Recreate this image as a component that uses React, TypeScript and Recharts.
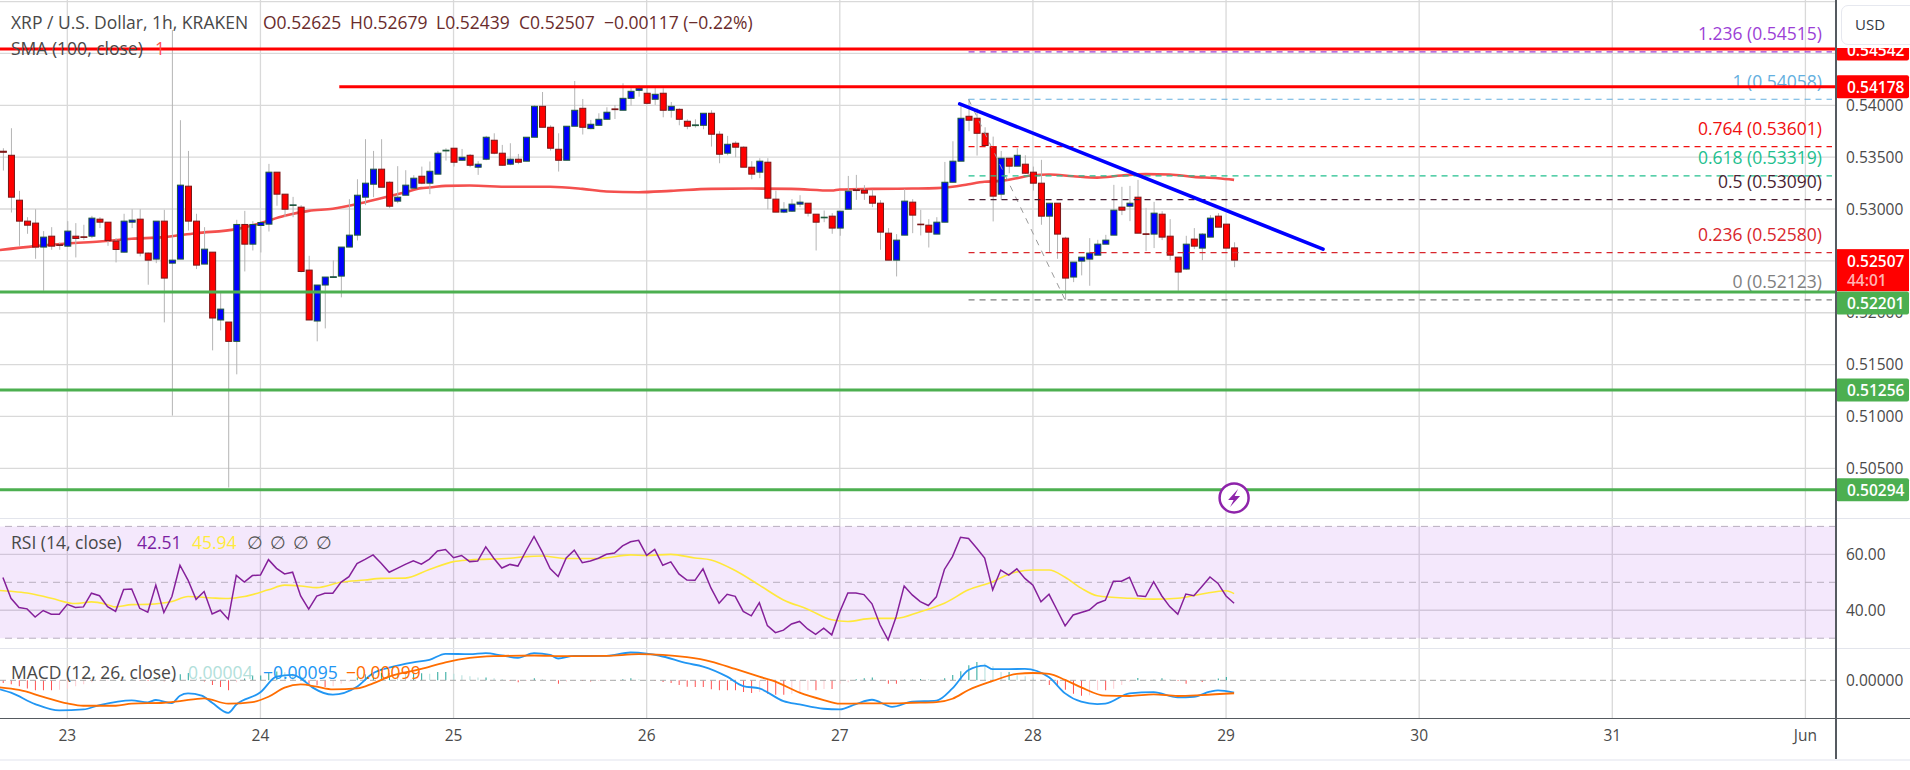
import React from 'react';
import { ComposedChart, Bar, Line, XAxis, YAxis, CartesianGrid, ReferenceLine, ReferenceArea, ReferenceDot, Cell } from 'recharts';

// Hours counted from May 23 00:00. Candle prices are in 1e-5 dollars.
const firstHour = -8;
const openE5 = [53557,53518,53085,52883,52864,52633,52738,52655,
52642,52738,52732,52738,52902,52873,52690,52584,52873,52902,52575,52517,52883,52478,52517,53220,
52883,52469,52584,51930,51910,51724,52851,52661,52841,52854,53355,53143,53034,53018,52411,51920,
52267,52340,52353,52633,52748,53114,53239,53384,53258,53076,53133,53201,53316,53249,53336,53560,
53586,53470,53518,53403,53480,53663,53538,53432,53480,53461,53692,53990,53788,53576,53470,53798,
53971,53775,53807,53865,53965,53952,54067,54144,54116,54058,54116,53952,53961,53846,53804,53807,
53923,53721,53538,53634,53596,53403,53355,53451,53095,52970,52979,53047,53056,52950,52915,52931,
52816,52998,53185,53181,53124,53056,52767,52507,52748,53066,52854,52844,52758,52873,53258,53461,
53894,53875,53730,53599,53143,53490,53413,53432,53355,53249,52931,53056,52719,52344,52498,52517,
52555,52661,52748,53018,53027,53114,52761,52758,52950,52738,52536,52421,52710,52623,52729,52931,
52854,52625];
const highE5 = [53586,53779,53175,52921,52998,52787,52825,52677,
52883,52864,52848,52934,52921,52873,52719,52954,52998,52998,52581,52883,52992,54725,53856,53560,
52954,52825,52584,52190,51910,52896,52982,52883,52883,53435,53355,53143,53117,53037,52549,52267,
52344,52504,52633,53095,53287,53673,53560,53673,53268,53413,53374,53326,53409,53458,53560,53586,
53586,53579,53531,53461,53705,53730,53618,53634,53531,53692,54000,54128,53807,53730,53798,54234,
54061,53859,53923,53981,54003,54212,54164,54196,54173,54167,54164,54032,53971,53865,53865,53923,
53952,53750,53705,53653,53605,53461,53490,53490,53178,53066,53095,53133,53056,52950,52986,52960,
52979,53319,53329,53230,53185,53085,52816,52758,53191,53095,52992,52902,52921,53454,53653,54003,
54058,53971,53788,53698,53560,53490,53586,53518,53409,53474,53056,53056,52732,52488,52536,52719,
52703,52751,53233,53214,53223,53281,53011,53069,52979,52902,52536,52742,52816,52767,52941,52960,
52854,52679];
const lowE5 = [53371,52966,52645,52761,52520,52212,52607,52607,
52633,52533,52703,52719,52816,52645,52485,52581,52816,52543,52270,52478,51907,51008,52517,52793,
52421,52469,51637,51830,50315,51406,52398,52600,52581,52783,53031,52921,52921,52389,51930,51724,
51849,52340,52148,52633,52697,53037,53114,53210,53008,53056,53133,53201,53239,53143,53336,53467,
53409,53467,53403,53329,53470,53528,53416,53422,53432,53461,53692,53788,53563,53361,53470,53798,
53718,53769,53804,53865,53868,53952,53997,54083,54010,54003,53884,53881,53807,53769,53785,53769,
53602,53441,53518,53499,53403,53287,53297,52998,52970,52960,52973,53018,52928,52600,52873,52761,
52742,52998,53088,53088,53018,52607,52507,52350,52748,52767,52745,52629,52758,52873,53258,53461,
53750,53515,53602,52880,53088,53345,53413,53339,53178,52848,52584,52520,52123,52295,52360,52260,
52555,52661,52748,52941,52883,52767,52594,52623,52700,52507,52212,52414,52613,52507,52729,52825,
52623,52439];
const closeE5 = [53547,53114,52883,52844,52633,52729,52642,52649,
52787,52716,52726,52912,52873,52697,52610,52883,52893,52575,52507,52883,52334,52507,53230,52883,
52459,52613,51949,52035,51724,52851,52661,52851,52870,53355,53143,52998,53040,52398,51930,52267,
52344,52347,52633,52748,53133,53249,53384,53210,53027,53114,53230,53297,53249,53364,53538,53567,
53451,53499,53422,53432,53692,53538,53422,53480,53451,53692,53990,53788,53586,53470,53798,53952,
53788,53817,53865,53933,53958,54067,54135,54164,54019,54106,53952,53990,53865,53798,53811,53923,
53721,53528,53624,53596,53403,53336,53461,53104,52970,52998,53047,53066,52960,52873,52921,52816,
52979,53172,53178,53153,53056,52777,52507,52700,53076,52941,52848,52777,52873,53258,53461,53875,
53856,53730,53612,53124,53490,53413,53518,53345,53249,52931,53056,52758,52334,52488,52536,52575,
52661,52700,52989,52989,53056,52767,52755,52960,52729,52555,52392,52661,52642,52758,52912,52825,
52623,52507];

const smaHours = [-8.4,-4,0,4,8,12,16,21,24,27,30,33,36,39,42,44,45,47,50,55,60,64,67,71,75,80,85,90,95,96,100,105,108,110,112,114,116,118,120,122,125,128,131,134,137,140,143,145];
const smaE5 = [52604,52642,52668,52687,52713,52729,52767,52806,52864,52934,52982,53002,53047,53104,53162,53201,53207,53223,53226,53214,53214,53194,53169,53162,53175,53194,53197,53194,53178,53188,53194,53197,53201,53214,53239,53262,53271,53297,53326,53332,53316,53303,53323,53336,53332,53310,53297,53281];

const rsiValues = [51.7,44.3,41,40.5,37.6,39.9,38.6,38.6,
42.1,41,41.2,46.1,45.2,41.3,39.6,47.4,47.6,40.7,39.3,49,39.2,44.9,56.1,50.8,
43.9,46.7,38.7,40,36.8,52.5,50.1,52.4,52.6,58.1,55,53,53.6,45.1,40.4,45.1,
46.1,46.1,50,52,56.7,58.2,59.8,56.8,53.6,55,56.4,57.7,56.5,58.3,61.2,61.7,
58.8,59.6,57.4,57.6,62.7,58.6,55.1,56.4,55.8,61.2,66.4,61,54.9,52.1,58.7,61.5,
57,57.6,58.6,60,60.5,63,64.5,65,59.6,61.8,56.1,57.3,53,50.8,50.7,54.8,
47.9,42.5,45.7,45,39.6,38,42.7,34.5,32,32.9,35.1,36,33.3,31.4,33.6,31.2,
39.5,46.2,46.2,45.6,42.3,34.8,29.4,37.7,48.7,45.5,43.1,41.7,44.8,54.6,59.2,66.1,
65.7,62.3,58.7,47.3,54.4,52.6,54.8,51.4,49,43,45.7,40.1,34.4,38.3,39.2,40.1,
42.5,43.6,50.4,50.4,51.8,45.2,44.9,50.2,45.2,41.3,38.6,45.8,45.2,48.5,51.9,49.6,
45.1,42.51];

const rsiMaHours = [-8.4,-7,-5,-2,1,3,5,6,8,10,13,15,18,20,22,25,27,29,31,34,37,39,42,45,48,50,55,57,59,62,66,70,72,75,78,80,83,86,89,92,95,97,100,103,106,109,112,115,117,120,122,124,126,128,132,135,138,141,144,145];
const rsiMaValues = [47.1,46.8,46.2,44.3,42.4,43,42,41.2,42,42.1,43.1,44.9,44.4,44.2,44.9,47.3,49,48.7,48.1,50,50.8,51.4,51.5,54.6,57.4,58,58.6,59.2,59.4,58.5,58.5,59.8,59.6,60,58.7,58,54.2,49,43.7,40.4,36.6,36,37.1,37.1,39.5,42.5,47.3,50.2,52.9,54.4,54.4,51.8,47.9,45.2,44.3,44,44.3,45.8,47,45.94];

// MACD pane values in thousandths of a dollar.
const macdHours = [-8.4,-7,-4,-1,2,4,8,10,11,13,14,15,16.7,18,20,21,24,26,28,29,30.5,33,36,38,40,43,45,47,50,52,54,56,58,60,61,63,67,70,72,73.5,77,79,82,84,86,89,91,94,96,98,100,102.5,105,108,110,112,114,115,119,122,124,126,128,129,132,135,138,140,142,143,145];
const macdValues = [-0.69,-0.95,-1.82,-2.31,-2.23,-1.9,-1.54,-1.69,-1.51,-1.74,-1.18,-1,-1.18,-1.72,-2.49,-1.85,-0.92,0.28,0.41,0.15,-0.56,-1.1,-0.49,0.54,0.97,1.38,1.56,2.03,2,2.08,1.9,1.72,2.08,1.95,1.67,1.87,1.87,2.13,2.05,1.9,1.31,1.05,0.28,-0.44,-0.62,-1.59,-1.85,-2.18,-2.23,-1.82,-1.49,-2.03,-1.64,-1.56,-0.62,0.79,1.13,0.85,0.87,0.23,-1,-1.64,-1.82,-1.79,-1,-0.9,-1.31,-1.26,-0.87,-0.77,-0.95];
const signalHours = [-8.4,-6,-3,0,2,6,8,12,14,17,20,23,25,27,29,31,33,36,38,40,44,47,50,53,58,62,67,71,74,77,80,83,86,88,91,94,96,99,102,105,108,110,112,115,118,120,122,124,126,129,132,135,138,141,145];
const signalValues = [-0.54,-0.74,-1.26,-1.77,-1.95,-1.95,-1.79,-1.72,-1.59,-1.38,-1.79,-1.67,-1.26,-0.56,-0.31,-0.49,-0.69,-0.62,-0.23,0.28,0.87,1.38,1.72,1.85,1.9,1.85,1.87,2,1.95,1.77,1.44,0.87,0.28,-0.1,-0.95,-1.51,-1.79,-1.77,-1.77,-1.72,-1.67,-1.41,-0.74,-0.05,0.49,0.56,0.49,0.03,-0.54,-1.18,-1.2,-1.08,-1.2,-1.13,-0.99];
const histValues = [-0.2,-0.31,-0.46,-0.62,-0.77,-0.77,-0.77,-0.72,
-0.64,-0.46,-0.31,-0.15,-0.05,-0.03,0.03,0.05,0.08,-0.03,-0.05,0.15,-0.08,-0.03,0.46,0.56,
0.13,-0.1,-0.36,-0.51,-0.77,-0.15,0.13,0.36,0.36,0.56,0.67,0.62,0.51,0.1,-0.26,-0.38,
-0.51,-0.46,-0.26,-0.1,0.21,0.46,0.51,0.56,0.56,0.51,0.46,0.51,0.54,0.51,0.64,0.64,
0.51,0.38,0.31,0.21,0.21,0.15,0.1,-0.05,-0.15,-0.05,0.15,0.08,0.03,-0.26,-0.1,-0.03,
-0.05,-0.1,-0.05,-0.03,0.03,0.08,0.15,0.08,0.03,-0.05,-0.13,-0.21,-0.36,-0.49,-0.51,-0.51,
-0.69,-0.77,-0.77,-0.77,-0.9,-0.97,-0.9,-1.03,-1.1,-1.1,-1.03,-0.9,-0.77,-0.77,-0.67,-0.67,
-0.26,-0.15,0.08,0.15,0.21,-0.05,-0.26,-0.26,0.05,0.05,0.1,0.08,0.05,0.15,0.41,0.69,
1.15,1.41,1.28,1.08,0.64,0.64,0.38,0.31,0.21,-0.05,-0.36,-0.38,-0.72,-1.03,-1.18,-1.15,
-0.77,-0.77,-0.64,-0.36,-0.1,0.18,0.05,0.05,0.15,0.08,-0.05,-0.26,-0.08,-0.13,-0.1,0.13,
0.26,0.03];

const priceTicks = [0.54,0.535,0.53,0.525,0.52,0.515,0.51,0.505];
const priceGrid = [0.55,0.545,...priceTicks];
const rsiTicks = [60,40];
const macdTicks = [0];
const dayHours = [0,24,48,72,96,120,144,168,192,216];
const dayLabels = ['23','24','25','26','27','28','29','30','31','Jun'];

const fibLevels = [
  { level: '1.236', price: 0.54515, color: '#9c3fd6' },
  { level: '1', price: 0.54058, color: '#64b0e0' },
  { level: '0.764', price: 0.53601, color: '#f00f0f' },
  { level: '0.618', price: 0.53319, color: '#22c08e' },
  { level: '0.5', price: 0.5309, color: '#4a1f33' },
  { level: '0.236', price: 0.5258, color: '#d8262c' },
  { level: '0', price: 0.52123, color: '#808080' },
];
const fibStartHour = 112;
const fibEndHour = 124;
const fibRightHour = 219.3;
const resistanceLines = [
  { price: 0.54542, fromHour: null, label: '0.54542' },
  { price: 0.54178, fromHour: 33.8, label: '0.54178' },
];
const supportLines = [
  { price: 0.52201, label: '0.52201', shift: 11 },
  { price: 0.51256, label: '0.51256', shift: 0 },
  { price: 0.50294, label: '0.50294', shift: 0 },
];
const trendLine = [{ hour: 110.9, price: 0.54013 }, { hour: 156.05, price: 0.52613 }];
const lastPrice = { price: 0.52507, label: '0.52507', countdown: '44:01', hour: 145 };

const hourDomain: [number, number] = [-8.364, 219.8];
const priceDomain: [number, number] = [0.50021, 0.55015];
const rsiDomain: [number, number] = [26.5, 73];
const macdDomain: [number, number] = [-2.91, 2.475];

const candleRows = openE5.map((o, i) => ({
  h: firstHour + i,
  open: o / 1e5,
  high: highE5[i] / 1e5,
  low: lowE5[i] / 1e5,
  close: closeE5[i] / 1e5,
  range: [lowE5[i] / 1e5, highE5[i] / 1e5],
}));
const smaRows = smaHours.map((h, i) => ({ h, v: smaE5[i] / 1e5 }));
const rsiRows = rsiValues.map((v, i) => ({ h: firstHour + i, v }));
const rsiMaRows = rsiMaHours.map((h, i) => ({ h, v: rsiMaValues[i] }));
const macdRows = macdHours.map((h, i) => ({ h, v: macdValues[i] }));
const signalRows = signalHours.map((h, i) => ({ h, v: signalValues[i] }));
const histRows = histValues.map((v, i) => ({ h: firstHour + i, v }));

const FONT = '"Open Sans", sans-serif';
const W = 1910;
const PLOT = 1836;
const GRID = '#d9d9d9';
const AXIS = '#555a60';
const noMargin = { top: 0, right: 0, bottom: 0, left: 0 };
const tagMargin = { top: 0, right: W - PLOT, bottom: 0, left: 0 };
const axisTick = { fill: '#4a4a4a', fontSize: 15.5, fontFamily: FONT };

const Candle = (p: any) => {
  const { x, y, width, height, payload } = p;
  const top = Math.min(y, y + height);
  const span = Math.abs(height);
  const { open, high, low, close } = payload;
  const cx = x + width / 2;
  const at = (v: number) => top + ((high - v) / (high - low)) * span;
  const up = close >= open;
  const bodyTop = at(Math.max(open, close));
  const bodyH = Math.max(at(Math.min(open, close)) - bodyTop, 0.6);
  return (
    <g>
      <line x1={cx} x2={cx} y1={top} y2={top + span} stroke="#b4b4b4" strokeWidth={1} />
      <rect x={cx - 3} y={bodyTop} width={6} height={bodyH} fill={up ? '#0000ff' : '#ff0000'} stroke={up ? '#1f5a3a' : '#7a1616'} strokeWidth={1} />
    </g>
  );
};

const PriceTag = ({ viewBox, text, fill, shift = 0 }: any) => {
  const y = viewBox.y + shift;
  return (
    <g>
      <rect x={PLOT} y={y - 11.5} width={W - PLOT - 1} height={23} rx={2} fill={fill} />
      <text x={1847} y={y + 0.5} fill="#ffffff" fontSize={15.5} fontWeight={600} fontFamily={FONT} dominantBaseline="central">{text}</text>
    </g>
  );
};

const LastTag = ({ viewBox }: any) => {
  const y = viewBox.y;
  return (
    <g>
      <rect x={PLOT} y={y - 11} width={W - PLOT - 1} height={42} fill="#ff0000" />
      <text x={1847} y={y + 1} fill="#ffffff" fontSize={15.5} fontWeight={600} fontFamily={FONT} dominantBaseline="central">{lastPrice.label}</text>
      <text x={1847} y={y + 20} fill="#ffb3b3" fontSize={15.5} fontWeight={600} fontFamily={FONT} dominantBaseline="central">{lastPrice.countdown}</text>
    </g>
  );
};

const FibLabel = ({ viewBox, text, color }: any) => (
  <text x={1822} y={viewBox.y - 18.5} fill={color} fontSize={17.5} fontFamily={FONT} textAnchor="end" dominantBaseline="central">{text}</text>
);

const EventMark = ({ cx, cy }: any) => (
  <g>
    <circle cx={cx} cy={cy} r={14.5} fill="#ffffff" stroke="#8e24aa" strokeWidth={2.5} />
    <path d={`M ${cx + 4} ${cy - 9} L ${cx - 6} ${cy + 2} L ${cx - 0.5} ${cy + 2} L ${cx - 4} ${cy + 9} L ${cx + 6} ${cy - 2} L ${cx + 0.5} ${cy - 2} Z`} fill="#8e24aa" />
  </g>
);

const histColor = (i: number) => {
  const v = histValues[i];
  const prev = i > 0 ? histValues[i - 1] : 0;
  if (v >= 0) return v >= prev ? '#26a69a' : '#b2dfdb';
  return v <= prev ? '#ff5252' : '#ffcdd2';
};

const legend = (x: number, y: number, text: string, color: string, size = 17.5) => (
  <div style={{ position: 'absolute', left: x, top: y - 12, height: 24, lineHeight: '24px', color, fontSize: size, fontFamily: FONT, whiteSpace: 'pre' }}>{text}</div>
);
const box = (x: number, y: number, w: number, h: number, bg: string) => (
  <div style={{ position: 'absolute', left: x, top: y, width: w, height: h, background: bg }} />
);
const layer = (top: number, node: React.ReactNode) => (
  <div style={{ position: 'absolute', left: 0, top }}>{node}</div>
);

export default function App() {
  return (
    <div style={{ position: 'absolute', left: 0, top: 0, width: W, height: 770, overflow: 'hidden', background: '#ffffff' }}>
      {layer(0, (
        <ComposedChart width={W} height={518} margin={noMargin}>
          <CartesianGrid stroke={GRID} strokeWidth={1.3} horizontalValues={priceGrid} verticalValues={dayHours} />
          <XAxis hide type="number" dataKey="h" domain={hourDomain} allowDataOverflow />
          <YAxis orientation="right" width={W - PLOT} domain={priceDomain} ticks={priceTicks} allowDataOverflow axisLine={false} tickLine={false} tickSize={0} tickMargin={10} tick={axisTick} tickFormatter={(v: number) => v.toFixed(5)} interval={0} />
          <Line data={smaRows} dataKey="v" type="monotone" stroke="#f4504e" strokeWidth={2.6} dot={false} isAnimationActive={false} />
        </ComposedChart>
      ))}
      {layer(0, (
        <ComposedChart width={W} height={518} margin={tagMargin} data={candleRows}>
          <XAxis hide type="number" dataKey="h" domain={hourDomain} allowDataOverflow />
          <YAxis hide domain={priceDomain} allowDataOverflow />
          <Bar dataKey="range" barSize={7} shape={<Candle />} isAnimationActive={false} />
        </ComposedChart>
      ))}
      {layer(0, (
        <ComposedChart width={W} height={518} margin={tagMargin} style={{ overflow: 'visible' }}>
          <XAxis hide type="number" dataKey="h" domain={hourDomain} allowDataOverflow />
          <YAxis hide domain={priceDomain} allowDataOverflow />
          <ReferenceLine segment={[{ x: fibStartHour, y: fibLevels[1].price }, { x: fibEndHour, y: fibLevels[6].price }]} stroke="#9a9a9a" strokeWidth={1} strokeDasharray="6 6" />
          {fibLevels.map((f) => (
            <ReferenceLine key={f.level} segment={[{ x: fibStartHour, y: f.price }, { x: fibRightHour, y: f.price }]} stroke={f.color} strokeWidth={1.2} strokeDasharray="6 5"
              label={(p: any) => <FibLabel {...p} text={`${f.level} (${f.price.toFixed(5)})`} color={f.color} />} />
          ))}
          {resistanceLines.map((r) => (
            <ReferenceLine key={r.label} segment={[{ x: r.fromHour === null ? hourDomain[0] : r.fromHour, y: r.price }, { x: hourDomain[1], y: r.price }]} stroke="#ff0000" strokeWidth={3}
              label={(p: any) => <PriceTag {...p} text={r.label} fill="#ff0000" />} />
          ))}
          {supportLines.map((s) => (
            <ReferenceLine key={s.label} y={s.price} stroke="#4caf50" strokeWidth={3}
              label={(p: any) => <PriceTag {...p} text={s.label} fill="#4caf50" shift={s.shift} />} />
          ))}
          <ReferenceLine y={lastPrice.price} stroke="none" label={(p: any) => <LastTag {...p} />} />
          <ReferenceLine segment={[{ x: trendLine[0].hour, y: trendLine[0].price }, { x: trendLine[1].hour, y: trendLine[1].price }]} stroke="#0000ff" strokeWidth={3.6} strokeLinecap="round" />
          <ReferenceDot x={lastPrice.hour} y={0.50214} r={14} shape={<EventMark />} />
        </ComposedChart>
      ))}
      {layer(518, (
        <ComposedChart width={W} height={130} margin={noMargin}>
          <CartesianGrid stroke={GRID} strokeWidth={1.3} horizontalValues={rsiTicks} verticalValues={dayHours} />
          <XAxis hide type="number" dataKey="h" domain={hourDomain} allowDataOverflow />
          <YAxis orientation="right" width={W - PLOT} domain={rsiDomain} ticks={rsiTicks} allowDataOverflow axisLine={false} tickLine={false} tickSize={0} tickMargin={10} tick={axisTick} tickFormatter={(v: number) => v.toFixed(2)} interval={0} />
          <ReferenceArea y1={30} y2={70} fill="#9b30e0" fillOpacity={0.11} stroke="none" />
          <ReferenceLine y={70} stroke="#b8aebf" strokeDasharray="7 5" strokeWidth={1} />
          <ReferenceLine y={50} stroke="#b8aebf" strokeDasharray="7 5" strokeWidth={1} />
          <ReferenceLine y={30} stroke="#b8aebf" strokeDasharray="7 5" strokeWidth={1} />
          <Line data={rsiMaRows} dataKey="v" type="monotone" stroke="#ffe83b" strokeWidth={1.6} dot={false} isAnimationActive={false} />
          <Line data={rsiRows} dataKey="v" type="linear" stroke="#85209a" strokeWidth={1.5} dot={false} isAnimationActive={false} />
        </ComposedChart>
      ))}
      {layer(648, (
        <ComposedChart width={W} height={111.5} margin={noMargin} data={histRows}>
          <CartesianGrid stroke={GRID} strokeWidth={1.3} horizontal={false} verticalValues={dayHours} />
          <XAxis type="number" dataKey="h" domain={hourDomain} allowDataOverflow ticks={dayHours} interval={0} height={41.2} axisLine={false} tickLine={false} tickSize={0} tickMargin={12} tick={axisTick} tickFormatter={(v: number) => dayLabels[dayHours.indexOf(v)]} />
          <YAxis orientation="right" width={W - PLOT} domain={macdDomain} ticks={macdTicks} allowDataOverflow axisLine={false} tickLine={false} tickSize={0} tickMargin={10} tick={axisTick} tickFormatter={(v: number) => (v / 1000).toFixed(5)} interval={0} />
          <ReferenceLine y={0} stroke="#a8a8a8" strokeDasharray="6 4" strokeWidth={1} />
          <Bar dataKey="v" barSize={1} isAnimationActive={false}>
            {histRows.map((r, i) => <Cell key={r.h} fill={histColor(i)} />)}
          </Bar>
          <Line data={macdRows} dataKey="v" type="monotone" stroke="#2196f3" strokeWidth={1.8} dot={false} isAnimationActive={false} />
          <Line data={signalRows} dataKey="v" type="monotone" stroke="#ff6d00" strokeWidth={1.8} dot={false} isAnimationActive={false} />
        </ComposedChart>
      ))}

      {box(0, 517.5, W, 1.5, '#e3e5ec')}
      {box(0, 647.5, W, 1.5, '#e3e5ec')}
      {box(0, 717.5, W, 1.5, AXIS)}
      {box(PLOT - 0.7, 0, 1.5, 759, AXIS)}
      {box(0, 759, W, 2, '#f0f1f6')}

      {box(PLOT + 1, 0, W - PLOT - 1, 48, '#ffffff')}
      <div style={{ position: 'absolute', left: 1841, top: 5, width: 80, height: 38, border: '1px solid #e6e8ef', borderRadius: 7, background: '#ffffff' }} />
      {legend(1855, 24, 'USD', '#333a45', 15)}

      {legend(11, 22, 'XRP / U.S. Dollar, 1h, KRAKEN', '#484848')}
      {legend(263, 22, 'O0.52625', '#6a2c2c')}
      {legend(350, 22, 'H0.52679', '#6a2c2c')}
      {legend(436, 22, 'L0.52439', '#6a2c2c')}
      {legend(519, 22, 'C0.52507', '#6a2c2c')}
      {legend(604, 22, '−0.00117 (−0.22%)', '#6a2c2c')}
      {legend(11, 48, 'SMA (100, close)', '#484848')}
      {legend(155, 48, '1', '#ff5252')}
      {legend(11, 542, 'RSI (14, close)', '#484848')}
      {legend(137, 542, '42.51', '#7b1fa2')}
      {legend(192, 542, '45.94', '#ffeb3b')}
      {legend(247, 542, '∅', '#555555')}
      {legend(270, 542, '∅', '#555555')}
      {legend(293, 542, '∅', '#555555')}
      {legend(316, 542, '∅', '#555555')}
      {legend(11, 672, 'MACD (12, 26, close)', '#484848')}
      {legend(188, 672, '0.00004', '#b2dfdb')}
      {legend(263, 672, '−0.00095', '#2196f3')}
      {legend(346, 672, '−0.00099', '#ff6d00')}
    </div>
  );
}
